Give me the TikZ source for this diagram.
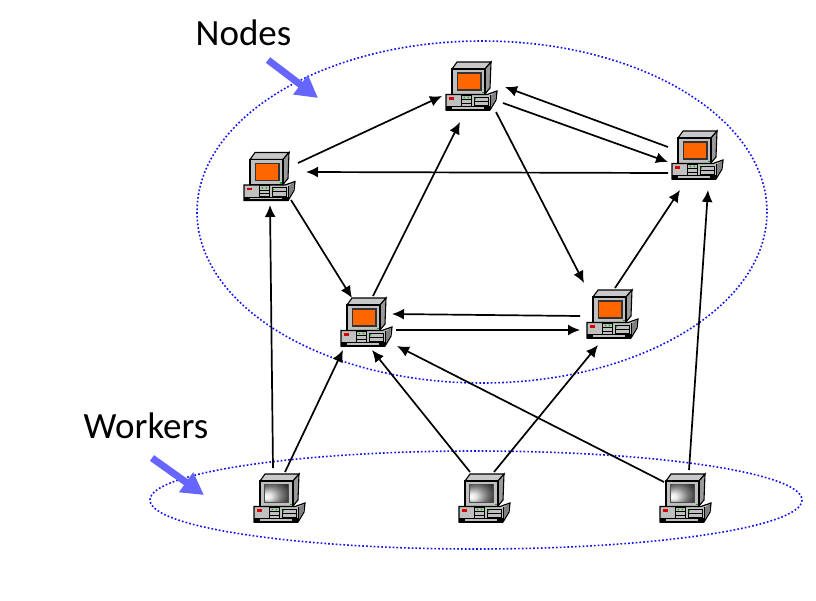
\documentclass[tikz,border=0pt]{standalone}
\usepackage{fontspec}
\setmainfont{Carlito}
\usetikzlibrary{arrows.meta}
\definecolor{casegray}{HTML}{C0C0C0}
\definecolor{sidegray}{HTML}{808080}
\definecolor{scr}{HTML}{FF6600}
\definecolor{dotblue}{HTML}{1414F0}
\definecolor{callout}{HTML}{6666FF}
\pgfdeclareradialshading{crt}{\pgfpoint{-24bp}{-12bp}}{color(0bp)=(white); color(9bp)=(white!90!black); color(24bp)=(black!50); color(40bp)=(black!82); color(58bp)=(black)}
\tikzset{
  x=1pt,y=-1pt,
  compbox/.style={draw=none,inner sep=0pt,minimum width=50pt,minimum height=48pt},
  link/.style={draw=black,line width=1.7pt,-{Latex[length=12pt,width=11pt]}},
  group/.style={draw=dotblue,line width=1.6pt,dash pattern=on 1.7pt off 2.1pt},
  pointer/.style={callout,line width=7pt,-{Triangle[length=22pt,width=23pt]}},
  label/.style={font=\fontsize{37}{40}\selectfont,inner sep=0pt},
  chassis/.style={draw=black,line width=1.2pt,line join=miter,fill=casegray},
  shell/.style={draw=black,line width=1.1pt,fill=casegray,line join=miter},
  comp/.pic={
    % monitor
    \path[shell,fill=casegray!85!white] (6,7) -- (11,0) -- (45,0) -- (39,7) -- cycle;
    \path[shell,fill=sidegray!60!casegray] (39,7) -- (45,0) -- (44,26) -- (39,32) -- cycle;
    \path[shell] (6,7) rectangle (39,32.5);
    % pc base
    \path[chassis] (0,32.5) -- (41,32.5) -- (51,29) -- (50,38) -- (44,48) -- (0,48) -- cycle;
    \fill[sidegray] (44,34) -- (50,30) -- (49.5,37.5) -- (44,46) -- cycle;
    \draw[black,line width=0.9pt] (44,33) -- (44,48);
    \fill[black] (0,44) rectangle (44,48.5);
    \fill[casegray] (6,45) rectangle (38,46.6);
    \fill[red!85!black] (3,35) rectangle (7.5,37.5);
    \draw[black,line width=0.7pt] (15,33) rectangle (25,44) (15,37.5) -- (25,37.5) (15,41) -- (25,41);
    \draw[black,line width=0.7pt] (28,35) rectangle (42,43.5) (28,39) -- (42,39);
    \fill[green!70!black] (17.5,34.5) rectangle (19,36) (21.5,34.5) rectangle (23,36) (28.5,36) rectangle (30,37.5);
    \fill[green!70!black] (35.5,29.5) rectangle (37.5,31);
  },
  screenhot/.pic={
    \fill[black!80] (10.5,10) rectangle (36,28.5);
    \fill[scr] (12,11.5) rectangle (34.3,27);
  },
  screencold/.pic={
    \fill[black!70] (10,9.5) rectangle (35,29);
    \shade[shading=crt] (11,10) rectangle (33.5,27.5);
  }
}
\begin{document}
\begin{tikzpicture}
\useasboundingbox (0,0) rectangle (816,600);
% ellipses
\node[inner sep=0pt,minimum size=0pt] (nodesC) at (482,212) {};
\node[inner sep=0pt,minimum size=0pt] (workersC) at (476,500) {};
\path[group] (nodesC) ellipse [x radius=285,y radius=171];
\path[group] (workersC) ellipse [x radius=326,y radius=49];
% computers
\node[compbox] (a) at (269,176.5) {};
\node[compbox] (t) at (471,86) {};
\node[compbox] (r) at (697,155) {};
\node[compbox] (bl) at (366,322) {};
\node[compbox] (br) at (612,314) {};
\node[compbox] (w1) at (278,499.5) {};
\node[compbox] (w2) at (483,500) {};
\node[compbox] (w3) at (684,499.5) {};
\foreach \n/\px/\py in {a/244/152.5,t/446/62,r/672/131,bl/341/298,br/587/290}{
  \pic at (\px,\py) {comp};
  \pic at (\px,\py) {screenhot};
}
\foreach \n/\px/\py in {w1/254/474,w2/459/474,w3/660/474}{
  \begin{scope}[shift={(\px,\py)},xscale=.96]
  \pic at (0,0) {comp};
  \pic at (0,0) {screencold};
  \end{scope}
}
% connectors
\draw[link] ([shift={(29,-13.5)}]a.center) -- ([shift={(-29,10)}]t.center);
\draw[link] ([shift={(-29,18)}]r.center) -- ([shift={(37,-4.5)}]a.center);
\draw[link] ([shift={(22,23.5)}]a.center) -- ([shift={(-14,-24)}]bl.center);
\draw[link] ([shift={(-5,-31.5)}]w1.center) -- ([shift={(1,28.5)}]a.center);
\draw[link] ([shift={(7,-27.5)}]w1.center) -- ([shift={(-23,28)}]bl.center);
\draw[link] ([shift={(7,-26)}]bl.center) -- ([shift={(-11,36)}]t.center);
\draw[link] ([shift={(25,26)}]t.center) -- ([shift={(-28,-31)}]br.center);
\draw[link] ([shift={(32,17)}]t.center) -- ([shift={(-29,7)}]r.center);
\draw[link] ([shift={(-29,-8)}]r.center) -- ([shift={(34,1)}]t.center);
\draw[link] ([shift={(3,-26)}]br.center) -- ([shift={(-17,35)}]r.center);
\draw[link] ([shift={(-32,2)}]br.center) -- ([shift={(26,-8)}]bl.center);
\draw[link] ([shift={(30,8)}]bl.center) -- ([shift={(-32,16)}]br.center);
\draw[link] ([shift={(-13,-28)}]w2.center) -- ([shift={(6,28)}]bl.center);
\draw[link] ([shift={(11,-28)}]w2.center) -- ([shift={(-14,31)}]br.center);
\draw[link] ([shift={(-20,-17.5)}]w3.center) -- ([shift={(31,24)}]bl.center);
\draw[link] ([shift={(5,-29.5)}]w3.center) -- ([shift={(11,35)}]r.center);
% callouts
\coordinate (np1) at (268,60);
\coordinate (np2) at (318,98);
\coordinate (wp1) at (152,458);
\coordinate (wp2) at (204,495);
\draw[pointer] (np1) -- (np2);
\draw[pointer] (wp1) -- (wp2);
% labels
\node[label] (nodesL) at (243.5,33) {Nodes};
\node[label] (workersL) at (146,426) {Workers};
\end{tikzpicture}
\end{document}
